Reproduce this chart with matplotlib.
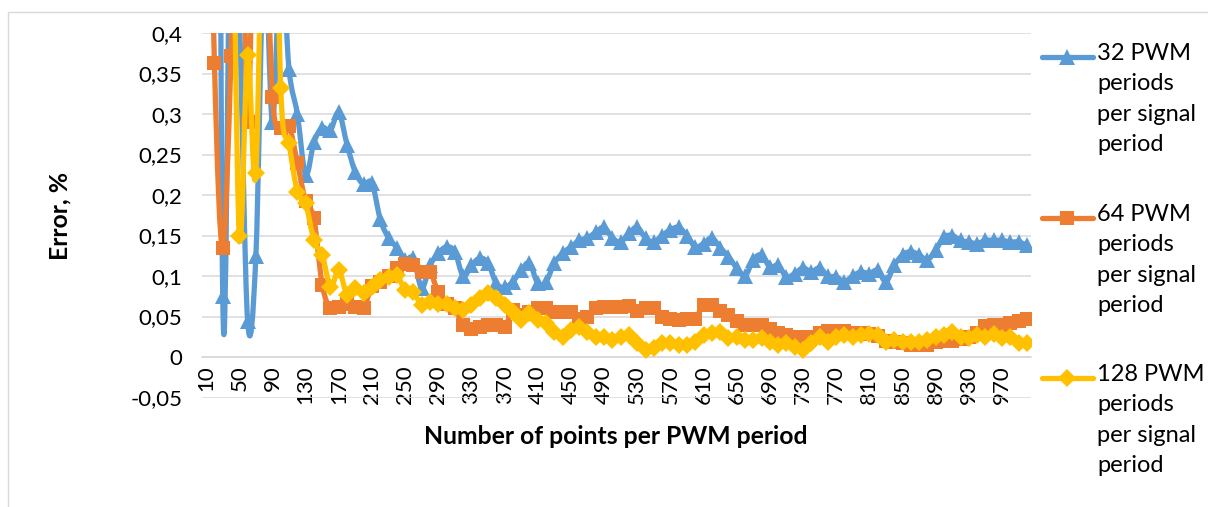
import numpy as np
import matplotlib
matplotlib.use('Agg')
import matplotlib.pyplot as plt
from matplotlib.path import Path
from matplotlib.patches import PathPatch, Rectangle
from matplotlib.lines import Line2D

plt.rcParams['font.family'] = ['Lato', 'DejaVu Sans']

# Data
categories = list(range(10, 1001, 10))

pwm32 = [0.90, 2.00, 0.075, 0.60, 0.42, 0.045, 0.125, 0.50, 0.29, 0.50,
         0.355, 0.300, 0.225, 0.265, 0.283, 0.280, 0.302, 0.262, 0.228, 0.213,
         0.215, 0.170, 0.147, 0.135, 0.120, 0.122, 0.085, 0.113, 0.128, 0.136,
         0.130, 0.100, 0.113, 0.122, 0.116, 0.091, 0.086, 0.093, 0.107, 0.116,
         0.091, 0.093, 0.116, 0.128, 0.136, 0.144, 0.147, 0.154, 0.160, 0.147,
         0.142, 0.153, 0.160, 0.147, 0.142, 0.150, 0.157, 0.160, 0.150, 0.136,
         0.140, 0.147, 0.135, 0.124, 0.110, 0.100, 0.120, 0.126, 0.111, 0.113,
         0.099, 0.103, 0.110, 0.105, 0.110, 0.100, 0.099, 0.093, 0.100, 0.105,
         0.103, 0.107, 0.093, 0.113, 0.126, 0.130, 0.126, 0.120, 0.132, 0.148,
         0.150, 0.144, 0.142, 0.140, 0.144, 0.144, 0.144, 0.142, 0.142, 0.138]

pwm64 = [0.90, 0.363, 0.135, 0.372, 0.80, 0.29, 0.70, 0.60, 0.321, 0.283,
         0.285, 0.240, 0.192, 0.171, 0.089, 0.060, 0.062, 0.065, 0.062, 0.060,
         0.088, 0.092, 0.100, 0.110, 0.115, 0.113, 0.105, 0.105, 0.080, 0.065,
         0.060, 0.040, 0.035, 0.037, 0.040, 0.040, 0.037, 0.058, 0.052, 0.055,
         0.060, 0.060, 0.056, 0.055, 0.055, 0.047, 0.050, 0.060, 0.062, 0.062,
         0.062, 0.063, 0.057, 0.060, 0.060, 0.050, 0.047, 0.046, 0.047, 0.047,
         0.064, 0.064, 0.057, 0.052, 0.045, 0.040, 0.040, 0.040, 0.035, 0.030,
         0.027, 0.025, 0.025, 0.025, 0.030, 0.032, 0.032, 0.032, 0.030, 0.030,
         0.028, 0.026, 0.020, 0.018, 0.017, 0.015, 0.015, 0.015, 0.018, 0.020,
         0.020, 0.022, 0.025, 0.030, 0.038, 0.040, 0.040, 0.042, 0.045, 0.047]

pwm128 = [0.90, 0.85, 0.80, 0.70, 0.150, 0.373, 0.227, 0.70, 0.80, 0.332,
          0.264, 0.204, 0.190, 0.144, 0.126, 0.087, 0.107, 0.077, 0.085, 0.079,
          0.087, 0.095, 0.099, 0.101, 0.083, 0.080, 0.064, 0.068, 0.066, 0.066,
          0.060, 0.058, 0.064, 0.073, 0.079, 0.073, 0.064, 0.056, 0.046, 0.054,
          0.046, 0.042, 0.031, 0.025, 0.033, 0.037, 0.031, 0.025, 0.025, 0.021,
          0.025, 0.027, 0.017, 0.009, 0.011, 0.017, 0.017, 0.015, 0.015, 0.019,
          0.027, 0.030, 0.031, 0.023, 0.025, 0.021, 0.021, 0.023, 0.019, 0.015,
          0.017, 0.012, 0.009, 0.017, 0.025, 0.019, 0.025, 0.027, 0.025, 0.027,
          0.029, 0.027, 0.019, 0.021, 0.019, 0.019, 0.019, 0.021, 0.025, 0.027,
          0.031, 0.025, 0.023, 0.027, 0.025, 0.029, 0.023, 0.025, 0.017, 0.017]

series_labels = ['32 PWM\nperiods\nper signal\nperiod',
                 '64 PWM\nperiods\nper signal\nperiod',
                 '128 PWM\nperiods\nper signal\nperiod']
colors = ['#5B9BD5', '#ED7D31', '#FFC000']
markers = ['^', 's', 'D']
marker_sizes = [12, 10, 9.5]
y_ticks = [-0.05, 0, 0.05, 0.1, 0.15, 0.2, 0.25, 0.3, 0.35, 0.4]


def smooth_path(xs, ys):
    # Excel-like smoothed line: cubic Bezier through every point
    pts = np.column_stack([xs, ys]).astype(float)
    padded = np.vstack([pts[0], pts, pts[-1]])
    verts = [pts[0]]
    codes = [Path.MOVETO]
    for i in range(len(pts) - 1):
        p0, p1, p2, p3 = padded[i], padded[i + 1], padded[i + 2], padded[i + 3]
        verts += [p1 + (p2 - p0) / 6, p2 - (p3 - p1) / 6, p2]
        codes += [Path.CURVE4] * 3
    return Path(verts, codes)


W, H = 1208, 507
fig = plt.figure(figsize=(W / 100, H / 100), dpi=100)
ax = fig.add_axes([202 / W, 1 - 397.5 / H, (1031 - 202) / W, (397.5 - 33) / H])

# chart area border
fig.patches.append(Rectangle((8 / W, -0.02), 1.0, 1 - 12 / H + 0.02, transform=fig.transFigure,
                             fill=False, edgecolor='#d9d9d9', linewidth=1))

pos = np.arange(len(categories))
z = 3
for vals, c, m, ms in zip([pwm32, pwm64, pwm128], colors, markers, marker_sizes):
    patch = PathPatch(smooth_path(pos, vals), fill=False, edgecolor=c, linewidth=3.8,
                      capstyle='round', joinstyle='round', zorder=z)
    ax.add_patch(patch)
    ax.plot(pos, vals, linestyle='none', marker=m, markersize=ms, color=c,
            markeredgewidth=0, zorder=z + 0.5)
    z += 1

ax.set_xlim(-0.5, len(categories) - 0.5)
ax.set_ylim(-0.05, 0.4)

ax.set_yticks(y_ticks)
ax.set_yticklabels([f"{round(v, 2):g}".replace('.', ',') for v in y_ticks])
ax.set_xticks(pos[::4])
ax.set_xticklabels([str(c) for c in categories[::4]])

ax.grid(axis='y', color='#d9d9d9', linewidth=1.1, zorder=0)
ax.set_axisbelow(True)
for s in ['top', 'right', 'left']:
    ax.spines[s].set_visible(False)
ax.spines['bottom'].set_position(('data', 0))
ax.spines['bottom'].set_color('#d9d9d9')
ax.spines['bottom'].set_linewidth(1.1)
ax.tick_params(axis='both', length=0, labelsize=16, labelcolor='#000000')
ax.tick_params(axis='y', pad=14)
ax.tick_params(axis='x', pad=6, labelrotation=90)

fig.text(616 / W, 1 - 437 / H, 'Number of points per PWM period', ha='center', va='center',
         fontsize=17.8, fontweight='bold')
fig.text(60 / W, 1 - 216 / H, 'Error, %', ha='center', va='center', rotation=90,
         fontsize=17.8, fontweight='bold')

# legend drawn by hand so the handle sits on the first text line
legend_rows = [57, 218, 378]
for lab, c, m, ms, yrow in zip(series_labels, colors, markers, marker_sizes, legend_rows):
    yf = 1 - yrow / H
    fig.add_artist(Line2D([1042 / W, 1093 / W], [yf, yf], transform=fig.transFigure,
                          color=c, linewidth=3.8, solid_capstyle='round'))
    fig.add_artist(Line2D([1067 / W], [yf], transform=fig.transFigure, color=c,
                          marker=m, markersize=ms, markeredgewidth=0))
    fig.text(1097 / W, 1 - (yrow - 14) / H, lab, ha='left', va='top', fontsize=17,
             linespacing=1.55)

fig.savefig('out.png', dpi=100)
